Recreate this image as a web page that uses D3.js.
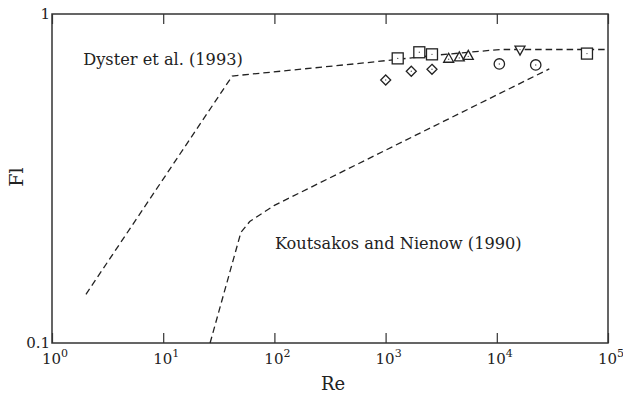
<!DOCTYPE html>
<html><head><meta charset="utf-8">
<script src="https://cdn.jsdelivr.net/npm/d3@7"></script>
<style>body{margin:0;background:#fff}svg{display:block}</style>
</head><body>
<svg id="c" width="623" height="399"></svg>
<script>
const xTicks = [1, 10, 100, 1000, 10000, 100000];
const xTickExp = ["0", "1", "2", "3", "4", "5"];
const yTicks = [0.1, 1];
const yTickLabels = ["0.1", "1"];
const dysterRe = [2.02, 41.8, 724, 2900, 10700, 100000];
const dysterFl = [0.1406, 0.648, 0.713, 0.75, 0.78, 0.78];
const koutRe = [26.4, 50, 60, 100, 29650];
const koutFl = [0.1, 0.217, 0.234, 0.262, 0.681];
const squareRe = [1285, 2010, 2613, 64700];
const squareFl = [0.733, 0.765, 0.754, 0.758];
const diamondRe = [1002, 1702, 2613];
const diamondFl = [0.630, 0.670, 0.679];
const triUpRe = [3690, 4600, 5540];
const triUpFl = [0.731, 0.738, 0.746];
const circleRe = [10540, 22390];
const circleFl = [0.705, 0.700];
const triDownRe = [16170];
const triDownFl = [0.774];
const labels = [
  {text: "Dyster et al. (1993)", re: 1.91, fl: 0.70},
  {text: "Koutsakos and Nienow (1990)", re: 101, fl: 0.193}
];

const FONT = "'DejaVu Serif', serif";
const svg = d3.select("#c");
const L = 52, R = 608, T = 14, B = 343;
const x = d3.scaleLog().domain([1, 1e5]).range([L, R]);
const y = d3.scaleLog().domain([0.1, 1]).range([B, T]);
const ink = "#222";

svg.append("rect").attr("x", L).attr("y", T).attr("width", R - L).attr("height", B - T)
  .attr("fill", "none").attr("stroke", "#333").attr("stroke-width", 1.5);

const bAxis = d3.axisBottom(x).tickValues(xTicks).tickSizeInner(-10).tickSizeOuter(0).tickFormat("");
const gb = svg.append("g").attr("transform", `translate(0,${B})`).call(bAxis);
gb.select(".domain").remove();
gb.selectAll(".tick line").attr("stroke", "#333").attr("stroke-width", 1.2);
const tAxis = d3.axisTop(x).tickValues(xTicks).tickSizeInner(-10).tickSizeOuter(0).tickFormat("");
const gt = svg.append("g").attr("transform", `translate(0,${T})`).call(tAxis);
gt.select(".domain").remove();
gt.selectAll(".tick line").attr("stroke", "#333").attr("stroke-width", 1.2);

function txt(sel) { return sel.attr("font-family", FONT).attr("fill", "#222"); }

xTicks.forEach((v, i) => {
  const t = txt(svg.append("text")).attr("x", x(v) + 3).attr("y", B + 21).attr("text-anchor", "middle")
    .attr("font-size", 15);
  t.append("tspan").text("10");
  t.append("tspan").attr("dy", -7).attr("font-size", 11).text(xTickExp[i]);
});
yTicks.forEach((v, i) => {
  txt(svg.append("text")).attr("x", L - 2).attr("y", y(v) + 5).attr("text-anchor", "end")
    .attr("font-size", 15).text(yTickLabels[i]);
});
txt(svg.append("text")).attr("x", 333).attr("y", 390).attr("text-anchor", "middle").attr("font-size", 18).text("Re");
txt(svg.append("text")).attr("transform", "translate(23,177) rotate(-90)").attr("text-anchor", "middle")
  .attr("font-size", 19).text("Fl");

const line = d3.line().x(d => x(d[0])).y(d => y(d[1]));
svg.append("path").datum(d3.zip(dysterRe, dysterFl)).attr("d", line)
  .attr("fill", "none").attr("stroke", ink).attr("stroke-width", 1.3).attr("stroke-dasharray", "6.5,4");
svg.append("path").datum(d3.zip(koutRe, koutFl)).attr("d", line)
  .attr("fill", "none").attr("stroke", ink).attr("stroke-width", 1.3).attr("stroke-dasharray", "6.5,4");

const mk = {fill: "#fff", stroke: ink, "stroke-width": 1.3};
function applyStyle(sel) { Object.entries(mk).forEach(([k, v]) => sel.attr(k, v)); return sel; }
function dots(re, fl, dy) {
  svg.append("g").selectAll("circle").data(d3.zip(re, fl)).join("circle")
    .attr("cx", d => x(d[0])).attr("cy", d => y(d[1]) + (dy || 0)).attr("r", 0.7).attr("fill", "#555");
}
applyStyle(svg.append("g").selectAll("rect").data(d3.zip(squareRe, squareFl)).join("rect")
  .attr("x", d => x(d[0]) - 5.5).attr("y", d => y(d[1]) - 5.5).attr("width", 11).attr("height", 11));
dots(squareRe, squareFl);
applyStyle(svg.append("g").selectAll("path").data(d3.zip(diamondRe, diamondFl)).join("path")
  .attr("d", d => `M${x(d[0])},${y(d[1]) - 5}l5,5l-5,5l-5,-5z`));
dots(diamondRe, diamondFl, 0);
applyStyle(svg.append("g").selectAll("path").data(d3.zip(triUpRe, triUpFl)).join("path")
  .attr("d", d => `M${x(d[0])},${y(d[1]) - 5.5}l5,9l-10,0z`));
dots(triUpRe, triUpFl, 0.5);
applyStyle(svg.append("g").selectAll("path").data(d3.zip(triDownRe, triDownFl)).join("path")
  .attr("d", d => `M${x(d[0])},${y(d[1]) + 4.5}l5,-9l-10,0z`));
dots(triDownRe, triDownFl, -1);
applyStyle(svg.append("g").selectAll("circle").data(d3.zip(circleRe, circleFl)).join("circle")
  .attr("cx", d => x(d[0])).attr("cy", d => y(d[1])).attr("r", 5.2));
dots(circleRe, circleFl);

labels.forEach(l => {
  txt(svg.append("text")).attr("x", x(l.re)).attr("y", y(l.fl)).attr("font-size", 16.2).text(l.text);
});
</script>
</body></html>
